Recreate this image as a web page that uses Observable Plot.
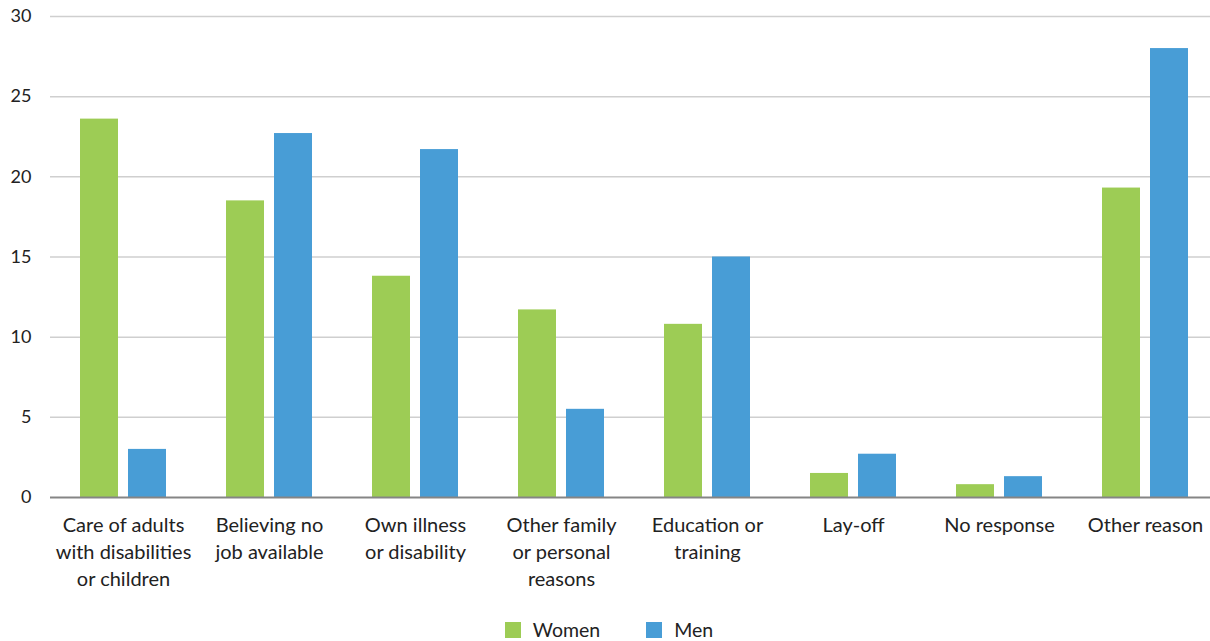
<!DOCTYPE html>
<html>
<head>
<meta charset="utf-8">
<script src="https://cdn.jsdelivr.net/npm/d3@7"></script>
<script src="https://cdn.jsdelivr.net/npm/@observablehq/plot@0.6"></script>
<style>
  html, body { margin: 0; padding: 0; background: #fff; }
  body { width: 1210px; height: 641px; overflow: hidden; font-family: Lato, sans-serif; color: #222; }
  #chart { width: 1210px; height: 600px; overflow: hidden; }
  #chart svg { max-width: none !important; }
  #legend { display: flex; justify-content: center; gap: 46px; height: 41px; align-items: flex-end; font-size: 19.5px; padding-left: 8px; box-sizing: border-box; }
  #legend span.item { display: flex; align-items: center; gap: 12px; line-height: 22px; }
  #legend span.sw { width: 16px; height: 16px; display: inline-block; }
</style>
</head>
<body>
<div id="chart"></div>
<div id="legend"></div>
<script>
// Reasons for inactivity, share of women and men (%)
const reasons = [
  "Care of adults\nwith disabilities\nor children",
  "Believing no\njob available",
  "Own illness\nor disability",
  "Other family\nor personal\nreasons",
  "Education or\ntraining",
  "Lay-off",
  "No response",
  "Other reason"
];
const series = ["Women", "Men"];
const women = [23.6, 18.5, 13.8, 11.7, 10.8, 1.5, 0.8, 19.3];
const men = [3.0, 22.7, 21.7, 5.5, 15.0, 2.7, 1.3, 28.0];
const colors = ["#9dcc55", "#489dd6"];
const yTicks = [0, 5, 10, 15, 20, 25, 30];

const data = reasons.flatMap((r, i) => [
  {reason: r, sex: "Women", value: women[i]},
  {reason: r, sex: "Men", value: men[i]}
]);

const chart = Plot.plot({
  width: 1218,
  height: 600,
  marginLeft: 50,
  marginRight: 0,
  marginTop: 16,
  marginBottom: 103,
  style: {fontFamily: "Lato, sans-serif", fontSize: "18px", color: "#222", maxWidth: "none"},
  fx: {domain: reasons, padding: 0, label: null},
  x: {domain: series, paddingInner: 0.21, paddingOuter: 0.61, axis: null},
  y: {domain: [0, 30], ticks: yTicks, label: null},
  color: {domain: series, range: colors},
  marks: [
    Plot.gridY(yTicks.filter(d => d > 0), {stroke: "#cfcfcf", strokeOpacity: 1, strokeWidth: 1.5}),
    Plot.axisY(yTicks, {tickSize: 0, tickPadding: 19, fontSize: 18, label: null}),
    Plot.axisFx({anchor: "bottom", tickSize: 0, tickPadding: 15, fontSize: 20, lineHeight: 1.35, label: null}),
    Plot.barY(data, {fx: "reason", x: "sex", y: "value", fill: "sex"}),
    Plot.ruleY([0], {stroke: "#858585", strokeWidth: 2})
  ]
});
document.getElementById("chart").appendChild(chart);

const legend = document.getElementById("legend");
series.forEach((s, i) => {
  const item = document.createElement("span");
  item.className = "item";
  const sw = document.createElement("span");
  sw.className = "sw";
  sw.style.background = colors[i];
  item.appendChild(sw);
  item.appendChild(document.createTextNode(s));
  legend.appendChild(item);
});
</script>
</body>
</html>
